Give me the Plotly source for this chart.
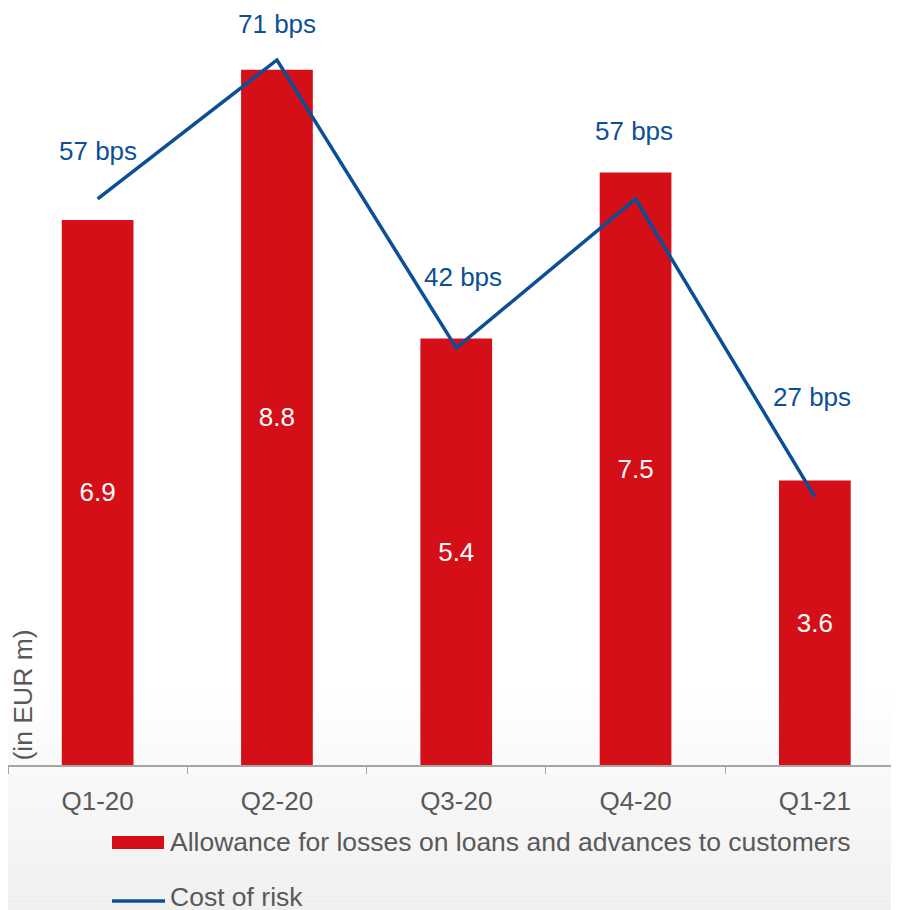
import plotly.graph_objects as go

# data
quarters = ["Q1-20", "Q2-20", "Q3-20", "Q4-20", "Q1-21"]
allowance = [6.9, 8.8, 5.4, 7.5, 3.6]          # EUR m
cost_of_risk = [57, 71, 42, 57, 27]            # bps
bps_labels = [f"{v} bps" for v in cost_of_risk]

# label nudges (pixels) for the bps callouts
label_dy = [48, 36, 71, 68, 100]
label_dx = [0, 0, 7, -2, -3]

RED = "#d50f17"
BLUE = "#0b4f96"
GREY_TXT = "#595959"
FONT = "Liberation Sans, Arial, sans-serif"

# page draws the figure 8px in from the top-left corner
OFF = 8
W, H = 891, 910
ML, MR = 0, 0
PLOT_H = 757
MB = H - PLOT_H
PLOT_W = W - ML - MR
CAT_PX = 179.3  # pixels per category band


def px_x(page_x):
    return (page_x - OFF - ML) / PLOT_W


def px_y(page_y):
    return (PLOT_H - (page_y - OFF)) / PLOT_H


fig = go.Figure()
fig.add_trace(go.Bar(
    x=quarters, y=allowance, width=0.4,
    marker=dict(color=RED, line=dict(width=0)),
    text=[f"{v:.1f}" for v in allowance],
    textposition="inside", insidetextanchor="middle", textangle=0,
    constraintext="none",
    textfont=dict(color="white", size=26, family=FONT),
    name="Allowance for losses on loans and advances to customers",
))
fig.add_trace(go.Scatter(
    x=quarters, y=cost_of_risk, yaxis="y2", mode="lines",
    line=dict(color=BLUE, width=3.5),
    name="Cost of risk",
))

annotations = []
for q, v, t, dy, dx in zip(quarters, cost_of_risk, bps_labels, label_dy, label_dx):
    annotations.append(dict(
        x=q, y=v, xref="x", yref="y2", text=t, showarrow=False,
        yshift=dy, xshift=dx, yanchor="middle", xanchor="center",
        font=dict(color=BLUE, size=26, family=FONT),
    ))

annotations.append(dict(
    x=px_x(22), y=px_y(763), xref="paper", yref="paper",
    text="(in EUR m)", textangle=-90, showarrow=False,
    xanchor="center", yanchor="bottom",
    font=dict(color=GREY_TXT, size=26.5, family=FONT),
))

# hand-built legend
annotations.append(dict(
    x=px_x(168), y=px_y(842), xref="paper", yref="paper",
    text="Allowance for losses on loans and advances to customers",
    showarrow=False, xanchor="left", yanchor="middle",
    font=dict(color=GREY_TXT, size=26.5, family=FONT),
))
annotations.append(dict(
    x=px_x(168), y=px_y(897), xref="paper", yref="paper",
    text="Cost of risk", showarrow=False, xanchor="left", yanchor="middle",
    font=dict(color=GREY_TXT, size=26.5, family=FONT),
))

shapes = []
# soft grey gradient toward the bottom
top_g, bot_g, steps = 690, 918, 46
for i in range(steps):
    y0 = top_g + (bot_g - top_g) * i / steps
    y1 = top_g + (bot_g - top_g) * (i + 1) / steps
    g = round(255 - (255 - 239) * (i + 1) / steps)
    shapes.append(dict(
        type="rect", xref="paper", yref="paper", layer="below",
        x0=px_x(OFF), x1=px_x(OFF + W), y0=px_y(y1), y1=px_y(y0),
        fillcolor=f"rgb({g},{g},{g})", line=dict(width=0),
    ))
shapes.append(dict(
    type="rect", xref="paper", yref="paper", layer="above",
    x0=px_x(112), x1=px_x(164), y0=px_y(849), y1=px_y(836),
    fillcolor=RED, line=dict(width=0),
))
shapes.append(dict(
    type="line", xref="paper", yref="paper", layer="above",
    x0=px_x(112), x1=px_x(165), y0=px_y(901), y1=px_y(901),
    line=dict(color=BLUE, width=3.5),
))

fig.update_layout(
    width=W, height=H,
    margin=dict(l=ML, r=MR, t=0, b=MB),
    paper_bgcolor="white", plot_bgcolor="rgba(0,0,0,0)",
    font=dict(family=FONT, color=GREY_TXT),
    showlegend=False,
    xaxis=dict(
        range=[-0.5, -0.5 + PLOT_W / CAT_PX], showgrid=False, zeroline=False,
        showline=True, linecolor="#a6a6a6", linewidth=1.5,
        ticks="outside", tickson="boundaries", ticklen=7, tickcolor="#a6a6a6",
        tickfont=dict(size=26, color=GREY_TXT, family=FONT),
        ticklabelstandoff=12,
    ),
    yaxis=dict(range=[0, PLOT_H / 79.0], visible=False, fixedrange=True),
    yaxis2=dict(range=[0, PLOT_H / 9.93], overlaying="y", visible=False),
    annotations=annotations,
    shapes=shapes,
)

fig.write_html("out.html")
